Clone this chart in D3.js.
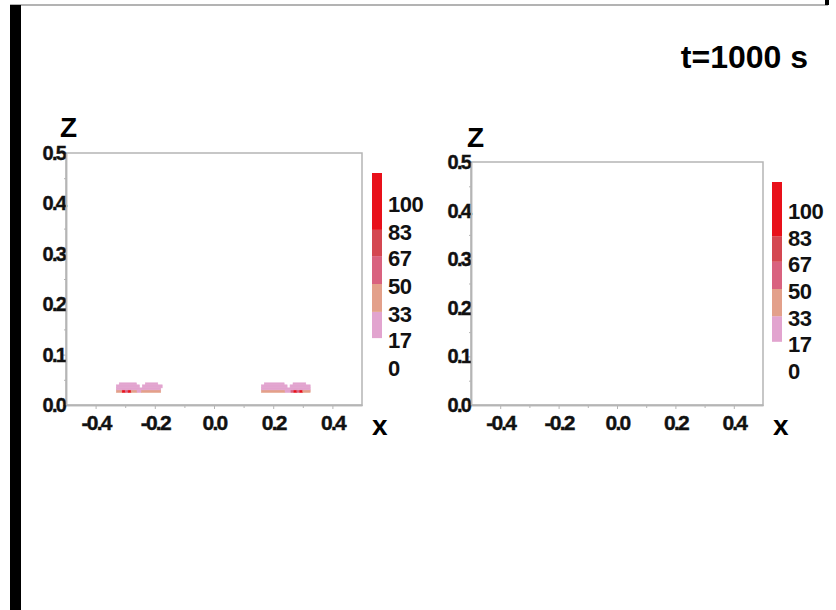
<!DOCTYPE html>
<html>
<head>
<meta charset="utf-8">
<script src="https://cdn.jsdelivr.net/npm/d3@7"></script>
<style>
  body { margin: 0; background: #fff; }
  svg { display: block; font-family: "Liberation Sans", Arial, sans-serif; }
</style>
</head>
<body>
<svg id="chart" width="836" height="610"></svg>
<script>
// data
var title = 't=1000 s';
var xTicks = [-0.4, -0.2, 0.0, 0.2, 0.4];
var xMinor = [-0.3, -0.1, 0.1, 0.3];
var zTicks = [0.0, 0.1, 0.2, 0.3, 0.4, 0.5];
var zMinor = [0.05, 0.15, 0.25, 0.35, 0.45];
var levels = [0, 17, 33, 50, 67, 83, 100];
var levelColors = ['#ffffff', '#e2a4cf', '#e3a08a', '#d9627f', '#d44751', '#e8101a'];

// deposit cells in the left panel: [x0, x1, z0, z1, value]
var depositLeft = [
	[-0.33, -0.31, 0.025, 0.030, 40],
	[-0.31, -0.30, 0.025, 0.030, 95],
	[-0.30, -0.29, 0.025, 0.030, 60],
	[-0.29, -0.28, 0.025, 0.030, 90],
	[-0.28, -0.26, 0.025, 0.030, 40],
	[-0.26, -0.245, 0.025, 0.030, 25],
	[-0.245, -0.18, 0.025, 0.030, 40],
	[-0.33, -0.18, 0.030, 0.034, 25],
	[-0.33, -0.252, 0.034, 0.040, 25],
	[-0.242, -0.175, 0.034, 0.040, 25],
	[-0.32, -0.262, 0.040, 0.044, 25],
	[-0.232, -0.19, 0.040, 0.044, 25]
];
var depositRight = [
	[0.16, 0.24, 0.025, 0.030, 40],
	[0.24, 0.26, 0.025, 0.030, 25],
	[0.26, 0.27, 0.025, 0.030, 60],
	[0.27, 0.28, 0.025, 0.030, 95],
	[0.28, 0.29, 0.025, 0.030, 60],
	[0.29, 0.30, 0.025, 0.030, 90],
	[0.30, 0.325, 0.025, 0.030, 40],
	[0.16, 0.325, 0.030, 0.034, 25],
	[0.16, 0.247, 0.034, 0.040, 25],
	[0.257, 0.325, 0.034, 0.040, 25],
	[0.17, 0.237, 0.040, 0.044, 25],
	[0.267, 0.31, 0.040, 0.044, 25]
];

var svg = d3.select('svg#chart');
var grey = '#b5b5b5';

// page frame
svg.append('line')
	.attr('x1', 10).attr('x2', 828)
	.attr('y1', 5).attr('y2', 5)
	.style('stroke', '#9a9a9a').style('stroke-width', '1.5px');
svg.append('rect')
	.attr('x', 10).attr('y', 5).attr('width', 11).attr('height', 605)
	.style('fill', '#000');
svg.append('rect')
	.attr('x', 825).attr('y', 0).attr('width', 4).attr('height', 5)
	.style('fill', '#000');

svg.append('text')
	.attr('x', 808).attr('y', 68)
	.style('text-anchor', 'end')
	.style('font-weight', 'bold')
	.style('font-size', '32px')
	.text(title);

var color = d3.scaleThreshold().domain(levels.slice(1, 6)).range(levelColors);

var panels = [
	{ x0: 66, x1: 362, y0: 405, y1: 153, cells: depositLeft.concat(depositRight),
		barX: 372, barTop: 173, bar0: 366, bar100: 202, zx: 60, zy: 137 },
	{ x0: 471, x1: 763, y0: 405, y1: 162, cells: [],
		barX: 772, barTop: 182, bar0: 369, bar100: 209, zx: 467, zy: 147 }
];

panels.forEach(function (p) {
	var xScale = d3.scaleLinear().domain([-0.5, 0.5]).range([p.x0, p.x1]);
	var zScale = d3.scaleLinear().domain([0, 0.5]).range([p.y0, p.y1]);
	var g = svg.append('g');

	g.selectAll('rect.cell')
		.data(p.cells)
		.enter()
		.append('rect')
		.attr('class', 'cell')
		.attr('x', function (d) { return xScale(d[0]); })
		.attr('width', function (d) { return xScale(d[1]) - xScale(d[0]); })
		.attr('y', function (d) { return zScale(d[3]); })
		.attr('height', function (d) { return zScale(d[2]) - zScale(d[3]); })
		.style('fill', function (d) { return color(d[4]); })
		.style('stroke', function (d) { return color(d[4]); })
		.style('stroke-width', '0.6px');

	// frame
	g.append('rect')
		.attr('x', p.x0).attr('y', p.y1)
		.attr('width', p.x1 - p.x0).attr('height', p.y0 - p.y1)
		.style('fill', 'none').style('stroke', grey).style('stroke-width', '1.5px');

	var xAxis = d3.axisBottom(xScale).tickValues(xTicks).tickSize(4).tickSizeOuter(0)
		.tickPadding(6)
		.tickFormat(function (d) { return d.toFixed(1); });
	var xAxisMinor = d3.axisBottom(xScale).tickValues(xMinor).tickSize(3).tickSizeOuter(0)
		.tickFormat('');
	var zAxis = d3.axisLeft(zScale).tickValues(zTicks).tickSize(3).tickSizeOuter(0)
		.tickPadding(-2)
		.tickFormat(function (d) { return d.toFixed(1); });
	var zAxisMinor = d3.axisLeft(zScale).tickValues(zMinor).tickSize(2).tickSizeOuter(0)
		.tickFormat('');

	[xAxis, xAxisMinor].forEach(function (ax) {
		g.append('g')
			.attr('transform', 'translate(0,' + p.y0 + ')')
			.call(ax)
			.attr('font-size', 21)
			.attr('font-weight', 'bold')
			.attr('font-family', '"Liberation Sans", Arial, sans-serif');
	});
	[zAxis, zAxisMinor].forEach(function (ax) {
		g.append('g')
			.attr('transform', 'translate(' + p.x0 + ',0)')
			.call(ax)
			.attr('font-size', 20)
			.attr('font-weight', 'bold')
			.attr('font-family', '"Liberation Sans", Arial, sans-serif');
	});

	g.selectAll('.domain').style('stroke', grey).style('stroke-width', '1.5px');
	g.selectAll('.tick line').style('stroke', grey);
	g.selectAll('.tick text')
		.attr('fill', '#111')
		.style('letter-spacing', '-1.8px')
		.style('stroke', '#111')
		.style('stroke-width', '0.4px');

	// axis titles
	g.append('text')
		.attr('x', p.zx).attr('y', p.zy)
		.style('font-weight', 'bold').style('font-size', '28px')
		.text('Z');
	g.append('text')
		.attr('x', p.x1 + 10).attr('y', 435)
		.style('font-weight', 'bold').style('font-size', '28px')
		.text('x');

	// colour bar
	var barScale = d3.scaleLinear().domain([0, 100]).range([p.bar0, p.bar100]);
	var segs = d3.range(1, 6).map(function (i) {
		var hi = i === 5 ? null : levels[i + 1];
		return { lo: levels[i], hi: hi, c: levelColors[i] };
	});
	g.selectAll('rect.seg')
		.data(segs)
		.enter()
		.append('rect')
		.attr('class', 'seg')
		.attr('x', p.barX)
		.attr('width', 10)
		.attr('y', function (d) { return d.hi === null ? p.barTop : barScale(d.hi); })
		.attr('height', function (d) {
			return barScale(d.lo) - (d.hi === null ? p.barTop : barScale(d.hi));
		})
		.style('fill', function (d) { return d.c; });

	g.selectAll('text.lev')
		.data(levels)
		.enter()
		.append('text')
		.attr('class', 'lev')
		.attr('x', p.barX + 16)
		.attr('y', function (d) { return barScale(d) + 2; })
		.attr('dy', '0.36em')
		.style('font-weight', 'bold')
		.style('font-size', '22px')
		.style('letter-spacing', '-0.5px')
		.style('fill', '#111')
		.text(function (d) { return d; });
});
</script>
</body>
</html>
